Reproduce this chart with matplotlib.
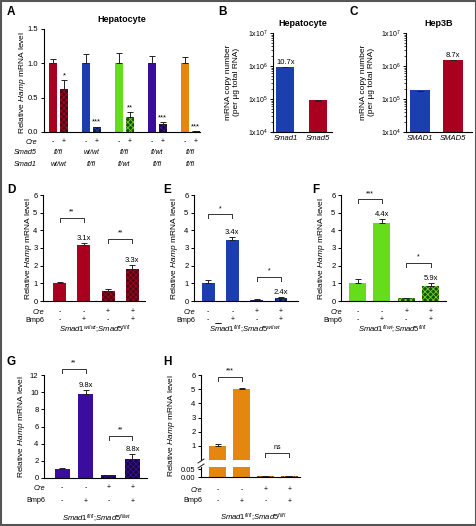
import matplotlib
matplotlib.use("Agg")
import matplotlib.pyplot as plt
import matplotlib.transforms as mtrans
from matplotlib.patches import Rectangle
import numpy as np

plt.rcParams['font.family'] = ['Liberation Sans', 'DejaVu Sans']
plt.rcParams['mathtext.fontset'] = 'custom'
plt.rcParams['mathtext.rm'] = 'Liberation Sans'
plt.rcParams['mathtext.it'] = 'Liberation Sans:italic'
plt.rcParams['mathtext.bf'] = 'Liberation Sans:bold'
plt.rcParams['hatch.linewidth'] = 0.6

# ---- data ----
# Panel A: hepatocytes, control (-Cre) vs knockout (+Cre)
A_smad5 = ['fl/fl', 'wt/wt', 'fl/fl', 'fl/wt', 'fl/fl']
A_smad1 = ['wt/wt', 'fl/fl', 'fl/wt', 'fl/fl', 'fl/fl']
A_ctrl = [1.0, 1.0, 1.0, 1.0, 1.0]
A_ctrl_err = [0.06, 0.14, 0.15, 0.11, 0.09]
A_ko = [0.63, 0.07, 0.22, 0.11, 0.01]
A_ko_err = [0.13, 0.01, 0.07, 0.03, 0.004]
A_sig = ['*', '***', '**', '***', '***']

# Panel B / C: mRNA copy number
B_genes = ['Smad1', 'Smad5']
B_vals = [9.2e5, 8.6e4]
B_err = [4e4, 8e3]
B_fold = '10.7x'
C_genes = ['SMAD1', 'SMAD5']
C_vals = [1.72e5, 1.5e6]
C_err = [6e3, 6e4]
C_fold = '8.7x'

# Panels D-H: Cre / Bmp6 treatment
cre = ['-', '-', '+', '+']
bmp6 = ['-', '+', '-', '+']
D_vals = [1.0, 3.15, 0.56, 1.83]
D_err = [0.07, 0.15, 0.12, 0.22]
D_fold = [None, '3.1x', None, '3.3x']
D_brk = [(0, 1, 4.7, '**'), (2, 3, 3.5, '**')]
E_vals = [1.02, 3.45, 0.08, 0.19]
E_err = [0.17, 0.2, 0.02, 0.03]
E_fold = [None, '3.4x', None, '2.4x']
E_brk = [(0, 1, 4.9, '*'), (2, 3, 1.35, '*')]
F_vals = [1.0, 4.42, 0.15, 0.85]
F_err = [0.25, 0.2, 0.04, 0.18]
F_fold = [None, '4.4x', None, '5.9x']
F_brk = [(0, 1, 5.75, '***'), (2, 3, 2.15, '*')]
G_vals = [1.05, 9.8, 0.3, 2.2]
G_err = [0.08, 0.5, 0.05, 0.55]
G_fold = [None, '9.8x', None, '8.8x']
G_brk = [(0, 1, 12.7, '**'), (2, 3, 4.9, '**')]
H_vals = [1.0, 4.98, 0.005, 0.006]
H_err = [0.12, 0.08, 0.001, 0.001]
H_brk = [(0, 1, 5.85, '***'), (2, 3, 0.5, 'ns')]

red, red_d = '#a8001e', '#4a0a14'
blue, blue_d = '#1c3fb0', '#0f1a4c'
green, green_d = '#66dd1a', '#1f4a10'
purple, purple_d = '#3a0d9e', '#180840'
orange, orange_d = '#e3870e', '#5a3a10'
A_cols = [(red, red_d), (blue, blue_d), (green, green_d), (purple, purple_d), (orange, orange_d)]

W, H = 477, 526
fig = plt.figure(figsize=(W / 100, H / 100), dpi=100)
FS = 5.5


def ax_px(l, t, r, b):
    return fig.add_axes([l / W, 1 - b / H, (r - l) / W, (b - t) / H])


def style(ax):
    for s in ['top', 'right']:
        ax.spines[s].set_visible(False)
    ax.spines['left'].set_linewidth(0.8)
    ax.spines['bottom'].set_linewidth(0.8)
    ax.tick_params(axis='y', direction='out', length=2.5, width=0.7, labelsize=FS, pad=1.5)
    ax.tick_params(axis='x', length=0)
    ax.set_xticks([])
    ax.patch.set_alpha(0)


def ylabel_px(ax, text, xpx, ypx, **kw):
    fig.text(xpx / W, 1 - ypx / H, text, rotation=90, ha='center', va='center', fontsize=6, **kw)


def row_text(ax, xs, labels, ypx, italic=False):
    tr = mtrans.blended_transform_factory(ax.transData, fig.transFigure)
    for x, s in zip(xs, labels):
        ax.text(x, 1 - ypx / H, s, transform=tr, ha='center', va='center', fontsize=5,
                style='italic' if italic else 'normal', clip_on=False)


def row_name(xpx, ypx, s, italic=True):
    fig.text(xpx / W, 1 - ypx / H, s, ha='right', va='center', fontsize=5.2,
             style='italic' if italic else 'normal')


def panel(xpx, ypx, s):
    fig.text(xpx / W, 1 - ypx / H, s, ha='left', va='center', fontsize=8.5, fontweight='bold')


def bars4(ax, xs, vals, errs, col, dark, width):
    for i, (x, v) in enumerate(zip(xs, vals)):
        if i < 2:
            ax.bar(x, v, width=width, color=col, linewidth=0)
        else:
            ax.bar(x, v, width=width, color=dark, edgecolor=col, hatch='xxxxxx', linewidth=0)
    ax.errorbar(xs, vals, yerr=[np.zeros(len(vals)), errs], fmt='none', ecolor='#222222',
                elinewidth=0.7, capsize=2.2, capthick=0.7, clip_on=False)


def brackets(ax, xs, brk, hpx):
    y0, y1 = ax.get_ylim()
    drop = (y1 - y0) * 4.0 / hpx
    for a, b, y, s in brk:
        ax.plot([xs[a], xs[a], xs[b], xs[b]], [y - drop, y, y, y - drop], color='#333333',
                lw=0.7, clip_on=False)
        ax.text((xs[a] + xs[b]) / 2, y + drop * 0.6, s, ha='center', va='bottom',
                fontsize=5, clip_on=False)


def folds(ax, xs, vals, errs, flds, hpx):
    y0, y1 = ax.get_ylim()
    off = (y1 - y0) * 1.0 / hpx
    for x, v, e, f in zip(xs, vals, errs, flds):
        if f:
            ax.text(x, v + e + off, f, ha='center', va='bottom', fontsize=5.5, clip_on=False)


# ---------- Panel A ----------
axA = ax_px(44, 29, 200, 132)
style(axA)
axA.set_xlim(-0.82, 13.4)
axA.set_ylim(0, 1.5)
axA.set_yticks([0.0, 0.5, 1.0, 1.5])
axA.set_yticklabels(['0.0', '0.5', '1.0', '1.5'])
xs_ctrl = [3 * i for i in range(5)]
xs_ko = [3 * i + 1 for i in range(5)]
for i in range(5):
    c, d = A_cols[i]
    axA.bar(xs_ctrl[i], A_ctrl[i], width=0.72, color=c, linewidth=0)
    axA.bar(xs_ko[i], A_ko[i], width=0.72, color=d, edgecolor=c, hatch='xxxxxx', linewidth=0)
axA.errorbar(xs_ctrl + xs_ko, A_ctrl + A_ko, yerr=[np.zeros(10), A_ctrl_err + A_ko_err],
             fmt='none', ecolor='#222222', elinewidth=0.7, capsize=2, capthick=0.7)
for x, v, e, s in zip(xs_ko, A_ko, A_ko_err, A_sig):
    axA.text(x, v + e + 0.01, s, ha='center', va='bottom', fontsize=5.5)
axA.set_title('Hepatocyte', fontsize=6.5, fontweight='bold', pad=5)
ylabel_px(axA, r'Relative $\mathit{Hamp}$ mRNA level', 23, 82)
row_text(axA, xs_ctrl, ['-'] * 5, 142)
row_text(axA, xs_ko, ['+'] * 5, 142)
row_text(axA, [x + 0.5 for x in xs_ctrl], A_smad5, 153, italic=True)
row_text(axA, [x + 0.5 for x in xs_ctrl], A_smad1, 164, italic=True)
row_name(37, 142, 'Cre')
row_name(37, 153, 'Smad5')
row_name(37, 164, 'Smad1')


def log_panel(l, r, xlim, genes, vals, errs, cols, fold, title, width):
    ax = ax_px(l, 33, r, 132)
    style(ax)
    ax.set_yscale('log')
    ax.set_ylim(1e4, 1e7)
    ax.set_xlim(*xlim)
    ax.set_yticks([1e4, 1e5, 1e6, 1e7])
    ax.set_yticklabels([r'1x10$^{4}$', r'1x10$^{5}$', r'1x10$^{6}$', r'1x10$^{7}$'])
    ax.tick_params(axis='y', which='minor', length=1.2, width=0.5)
    ax.tick_params(axis='y', labelsize=5)
    xs = [0, 1]
    ax.bar(xs, vals, width=width, color=cols, linewidth=0, bottom=1e4)
    ax.errorbar(xs, vals, yerr=[[0, 0], errs], fmt='none', ecolor='#222222',
                elinewidth=0.7, capsize=2.2, capthick=0.7)
    tr = mtrans.blended_transform_factory(ax.transData, fig.transFigure)
    for x, g in zip(xs, genes):
        ax.text(x, 1 - 139 / H, g, transform=tr, ha='center', va='center', fontsize=5.5,
                style='italic')
    i = int(np.argmax(vals))
    ax.text(xs[i], vals[i] * 1.12, fold, ha='center', va='bottom', fontsize=5.5)
    ax.set_title(title, fontsize=6.5, fontweight='bold', pad=5)
    return ax


axB = log_panel(273, 332, (-0.38, 1.42), B_genes, B_vals, B_err, [blue, red], B_fold,
                'Hepatocyte', 0.55)
ylabel_px(axB, 'mRNA copy number\n(per µg total RNA)', 233, 82)
axC = log_panel(406, 472, (-0.42, 1.58), C_genes, C_vals, C_err, [blue, red], C_fold,
                'Hep3B', 0.6)
ylabel_px(axC, 'mRNA copy number\n(per µg total RNA)', 368, 82)


def treat_panel(l, t, r, b, xlim, ylim, yticks, vals, errs, col, dark, fld, brk, width,
                cre_y, bmp_y, geno, geno_y, geno_x, ylab_x):
    ax = ax_px(l, t, r, b)
    style(ax)
    xs = [0, 1, 2, 3]
    ax.set_xlim(*xlim)
    ax.set_ylim(*ylim)
    ax.set_yticks(yticks)
    bars4(ax, xs, vals, errs, col, dark, width)
    if fld:
        folds(ax, xs, vals, errs, fld, b - t)
    brackets(ax, xs, brk, b - t)
    row_text(ax, xs, cre, cre_y)
    row_text(ax, xs, bmp6, bmp_y)
    row_name(l + 1, cre_y, 'Cre')
    row_name(l + 1, bmp_y, 'Bmp6', italic=False)
    fig.text(geno_x / W, 1 - geno_y / H, geno, ha='center', va='center', fontsize=5.5)
    ylabel_px(ax, r'Relative $\mathit{Hamp}$ mRNA level', ylab_x, (t + b) / 2)
    return ax


treat_panel(43, 195, 145, 301, (-0.68, 3.52), (0, 6), range(7), D_vals, D_err, red, red_d,
            D_fold, D_brk, 0.53, 312, 320,
            r'$\mathit{Smad1}^{\mathit{wt/wt}}$;$\mathit{Smad5}^{\mathit{fl/fl}}$', 330, 95, 29)
treat_panel(194, 195, 298, 301, (-0.58, 3.7), (0, 6), range(7), E_vals, E_err, blue, blue_d,
            E_fold, E_brk, 0.53, 312, 320,
            r'$\mathit{Smad1}^{\mathit{fl/fl}}$;$\mathit{Smad5}^{\mathit{wt/wt}}$', 330, 245, 175)
treat_panel(341, 195, 446, 301, (-0.68, 3.63), (0, 6), range(7), F_vals, F_err, green, green_d,
            F_fold, F_brk, 0.7, 312, 320,
            r'$\mathit{Smad1}^{\mathit{fl/wt}}$;$\mathit{Smad5}^{\mathit{fl/fl}}$', 330, 393, 322)
treat_panel(44, 375, 147, 478, (-0.77, 3.62), (0, 12), range(0, 13, 2), G_vals, G_err, purple,
            purple_d, G_fold, G_brk, 0.64, 488, 501,
            r'$\mathit{Smad1}^{\mathit{fl/fl}}$;$\mathit{Smad5}^{\mathit{fl/wt}}$', 519, 97, 22)

# ---------- Panel H (broken axis) ----------
xsH = [0, 1, 2, 3]
axH = ax_px(201, 375, 300, 460)
style(axH)
axH.spines['bottom'].set_visible(False)
axH.set_xlim(-0.71, 3.45)
axH.set_ylim(0, 6.0)
axH.set_yticks([1, 2, 3, 4, 5, 6])
for i, v in enumerate(H_vals[:2]):
    axH.bar(xsH[i], v, width=0.71, color=orange, linewidth=0)
axH.errorbar(xsH[:2], H_vals[:2], yerr=[[0, 0], H_err[:2]], fmt='none', ecolor='#222222',
             elinewidth=0.7, capsize=2.2, capthick=0.7)
brackets(axH, xsH, H_brk, 85)
axH2 = ax_px(201, 467, 300, 477)
style(axH2)
axH2.set_xlim(-0.71, 3.45)
axH2.set_ylim(0, 0.065)
axH2.set_yticks([0.0, 0.05])
axH2.set_yticklabels(['0.00', '0.05'])
bars4(axH2, xsH, H_vals, [0, 0, 0, 0], orange, orange_d, 0.71)
# break marks on the y axis
for yp in (461, 466):
    fig.add_artist(plt.Line2D([198 / W, 204 / W], [1 - (yp + 2) / H, 1 - (yp - 2) / H],
                              color='#222222', lw=0.7))
row_text(axH2, xsH, cre, 490)
row_text(axH2, xsH, bmp6, 501)
row_name(202, 490, 'Cre')
row_name(202, 501, 'Bmp6', italic=False)
fig.text(253 / W, 1 - 518 / H,
         r'$\mathit{Smad1}^{\mathit{fl/fl}}$;$\mathit{Smad5}^{\mathit{fl/fl}}$',
         ha='center', va='center', fontsize=5.5)
ylabel_px(axH, r'Relative $\mathit{Hamp}$ mRNA level', 172, 425)

# panel letters
for x, y, s in [(7, 12, 'A'), (218, 12, 'B'), (350, 12, 'C'), (7, 190, 'D'), (163, 190, 'E'),
                (312, 190, 'F'), (7, 362, 'G'), (163, 362, 'H')]:
    panel(x, y, s)

# outer frame
fig.patches.append(Rectangle((0.002, 0.002), 0.996, 0.996, transform=fig.transFigure,
                             fill=False, edgecolor='#555555', lw=1.5))

plt.savefig('out.png', dpi=100)
